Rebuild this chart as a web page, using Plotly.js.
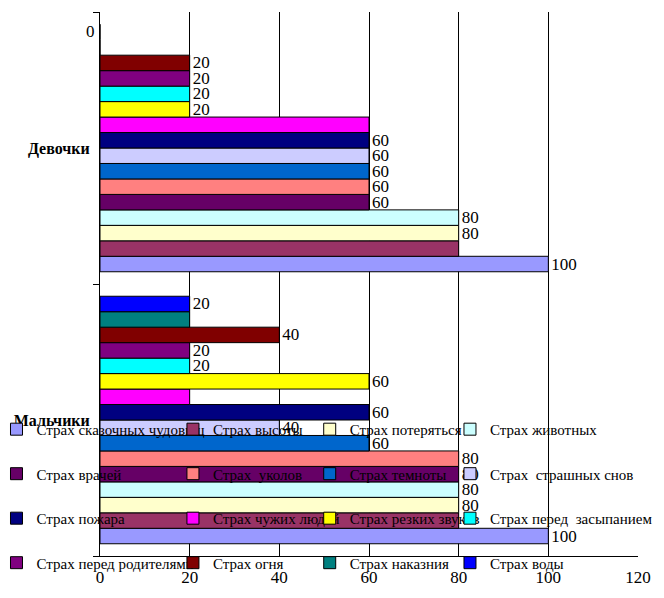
<!DOCTYPE html>
<html>
<head>
<meta charset="utf-8">
<script src="https://cdn.plot.ly/plotly-3.0.1.min.js"></script>
<style>html,body{margin:0;padding:0;background:#fff;}#chart{width:664px;height:598px;}</style>
</head>
<body>
<div id="chart"></div>
<script>
const categories = ['Мальчики', 'Девочки'];
const fears = [
  'Страх сказочных чудовищ', 'Страх высоты', 'Страх потеряться', 'Страх животных',
  'Страх врачей', 'Страх  уколов', 'Страх темноты', 'Страх  страшных снов',
  'Страх пожара', 'Страх чужих людей', 'Страх резких звуков', 'Страх перед  засыпанием',
  'Страх перед родителями', 'Страх огня', 'Страх наказния', 'Страх воды'
];
const boys  = [100, 80, 80, 80, 80, 80, 60, 40, 60, 20, 60, 20, 20, 40, 20, 20];
const girls = [100, 80, 80, 80, 60, 60, 60, 60, 60, 60, 20, 20, 20, 20, 0, 0];
const boysLabelShown  = [1, 0, 1, 1, 1, 1, 1, 1, 1, 0, 1, 1, 1, 1, 0, 1];
const girlsLabelShown = [1, 0, 1, 1, 1, 1, 1, 1, 1, 0, 1, 1, 1, 1, 0, 1];
const colors = [
  '#9999FF', '#993366', '#FFFFCC', '#CCFFFF',
  '#660066', '#FF8080', '#0066CC', '#CCCCFF',
  '#000080', '#FF00FF', '#FFFF00', '#00FFFF',
  '#800080', '#800000', '#008080', '#0000FF'
];
const xTicks = [0, 20, 40, 60, 80, 100, 120];

const FONT = '"Liberation Serif", "Times New Roman", serif';
const legendIds = ['legend', 'legend2', 'legend3', 'legend4'];
const BARGAP = 0.09;
const nSeries = fears.length;

function labelFor(v, shown) { return shown && v !== 0 ? String(v) : ''; }

const traces = fears.map((name, i) => ({
  type: 'bar',
  orientation: 'h',
  name: name,
  y: categories,
  x: [boys[i], girls[i]],
  text: [labelFor(boys[i], boysLabelShown[i]), labelFor(girls[i], girlsLabelShown[i])],
  textposition: 'outside',
  constraintext: 'none',
  cliponaxis: false,
  textfont: {family: FONT, size: 17, color: '#000'},
  marker: {color: colors[i], line: {color: '#000', width: 1}},
  legend: legendIds[i % 4],
  legendgroup: 'g' + i,
  hoverinfo: 'none'
}));

// zero-valued bars with a shown label: label sits left of the axis (as in the source)
const annotations = [];
[boys, girls].forEach((vals, c) => {
  const shown = c === 0 ? boysLabelShown : girlsLabelShown;
  vals.forEach((v, i) => {
    if (v === 0 && shown[i]) {
      const slot = (1 - BARGAP) / nSeries;
      const yPos = c + (-0.5 + BARGAP / 2) + (i + 0.5) * slot;
      annotations.push({
        x: 0, y: yPos, xref: 'x', yref: 'y',
        text: String(v), showarrow: false,
        xanchor: 'right', yanchor: 'middle', xshift: -3,
        font: {family: FONT, size: 17, color: '#000'}
      });
    }
  });
});

const legendX = [-0.1924, 0.1356, 0.3898, 0.6505];
const layout = {
  width: 664,
  height: 598,
  paper_bgcolor: '#fff',
  plot_bgcolor: '#fff',
  margin: {l: 100, r: 26, t: 12, b: 42, autoexpand: false},
  barmode: 'group',
  bargap: BARGAP,
  bargroupgap: 0,
  showlegend: true,
  font: {family: FONT, color: '#000'},
  annotations: annotations,
  xaxis: {
    range: [0, 120],
    tickvals: xTicks,
    ticktext: xTicks.map(String),
    showgrid: true,
    gridcolor: '#000',
    gridwidth: 1,
    zeroline: false,
    showline: true,
    linecolor: '#000',
    linewidth: 1,
    ticks: '',
    ticklabelstandoff: 6,
    tickfont: {family: FONT, size: 17, color: '#000'},
    fixedrange: true
  },
  yaxis: {
    type: 'category',
    categoryorder: 'array',
    categoryarray: categories,
    showline: true,
    linecolor: '#000',
    linewidth: 1,
    showgrid: false,
    zeroline: false,
    ticks: 'outside',
    tickson: 'boundaries',
    ticklen: 6,
    tickcolor: '#000',
    ticklabelstandoff: 6,
    tickfont: {family: FONT, size: 16, color: '#000', weight: 'bold'},
    fixedrange: true
  }
};
legendIds.forEach((id, k) => {
  layout[id] = {
    x: legendX[k],
    y: 0.263,
    xref: 'paper',
    yref: 'paper',
    xanchor: 'left',
    yanchor: 'top',
    orientation: 'v',
    traceorder: 'grouped',
    tracegroupgap: 22,
    bgcolor: 'rgba(0,0,0,0)',
    borderwidth: 0,
    font: {family: FONT, size: 15, color: '#000'}
  };
});

Plotly.newPlot('chart', traces, layout, {displayModeBar: false, staticPlot: true});
</script>
</body>
</html>
